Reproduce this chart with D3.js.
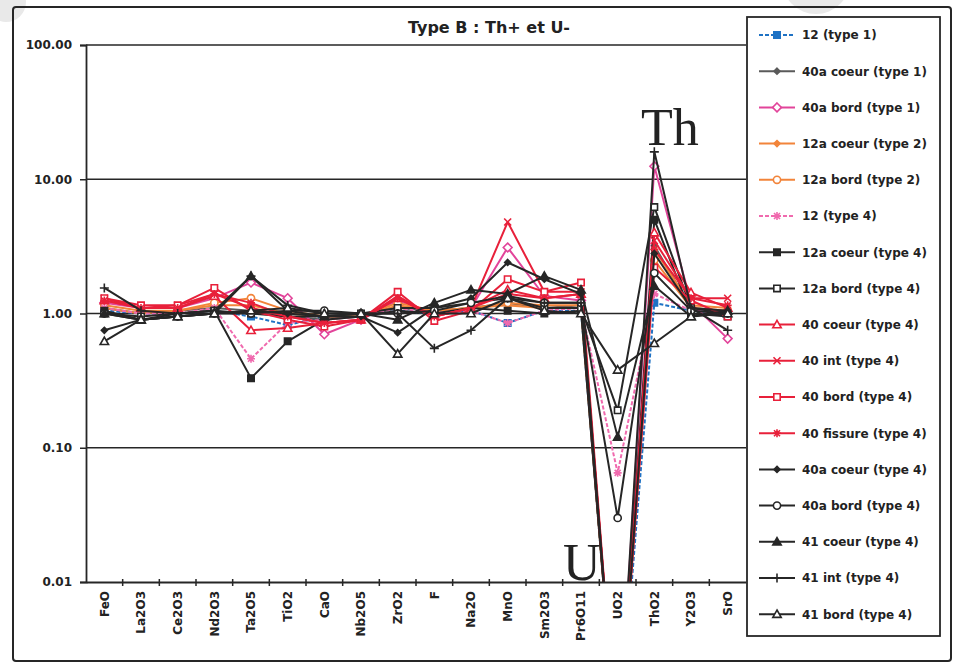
<!DOCTYPE html>
<html>
<head>
<meta charset="utf-8">
<script src="https://cdn.jsdelivr.net/npm/d3@7"></script>
<style>
  body { margin: 0; background: #fff; }
  text { font-family: "DejaVu Sans", Verdana, sans-serif; font-weight: bold; fill: #222; }
</style>
</head>
<body>
<div id="chart"></div>
<script>
// ---- data ----
const categories = ["FeO","La2O3","Ce2O3","Nd2O3","Ta2O5","TiO2","CaO","Nb2O5","ZrO2","F","Na2O","MnO","Sm2O3","Pr6O11","UO2","ThO2","Y2O3","SrO"];

const yTicks = [0.01, 0.1, 1, 10, 100];

const seriesNames = [
  "12 (type 1)", "40a coeur (type 1)", "40a bord (type 1)", "12a coeur (type 2)",
  "12a bord (type 2)", "12 (type 4)", "12a coeur (type 4)", "12a bord (type 4)",
  "40 coeur (type 4)", "40 int (type 4)", "40 bord (type 4)", "40 fissure (type 4)",
  "40a coeur (type 4)", "40a bord (type 4)", "41 coeur (type 4)", "41 int (type 4)",
  "41 bord (type 4)"
];

// values below 0.01 (UO2) fall off the bottom of the log axis
const v12_t1       = [1.05, 1.0, 1.0, 1.05, 0.95, 0.82, 0.95, 0.95, 1.05, 1.0, 1.05, 0.85, 1.05, 1.05, 0.0005, 1.2, 1.05, 1.0];
const v40aCoeur_t1 = [1.1, 1.0, 1.05, 1.1, 1.05, 0.95, 0.9, 0.95, 1.1, 1.05, 1.1, 1.2, 1.1, 1.15, 0.0005, 3.2, 1.1, 1.05];
const v40aBord_t1  = [1.2, 1.1, 1.1, 1.3, 1.7, 1.3, 0.7, 0.9, 1.25, 1.0, 1.1, 3.1, 1.35, 1.25, 0.0005, 12.5, 1.2, 0.65];
const v12aCoeur_t2 = [1.1, 1.0, 1.05, 1.15, 1.15, 1.0, 0.95, 0.95, 1.15, 1.05, 1.1, 1.15, 1.1, 1.1, 0.0005, 3.0, 1.15, 1.1];
const v12aBord_t2  = [1.15, 1.05, 1.05, 1.2, 1.3, 1.05, 0.95, 0.95, 1.2, 1.05, 1.1, 1.2, 1.15, 1.15, 0.0005, 2.5, 1.1, 1.05];
const v12_t4       = [1.1, 1.0, 1.0, 1.1, 0.46, 0.85, 0.9, 0.95, 1.1, 1.0, 1.05, 0.85, 1.05, 1.1, 0.065, 1.4, 1.05, 1.0];
const v12aCoeur_t4 = [1.05, 0.9, 1.0, 1.05, 0.33, 0.62, 0.9, 0.95, 1.05, 1.0, 1.1, 1.05, 1.0, 1.05, 0.0005, 5.0, 1.0, 0.95];
const v12aBord_t4  = [1.0, 0.95, 1.0, 1.05, 1.0, 0.95, 0.95, 1.0, 1.1, 1.1, 1.2, 1.3, 1.1, 1.1, 0.19, 6.2, 1.1, 1.0];
const v40Coeur_t4  = [1.25, 1.1, 1.1, 1.35, 0.75, 0.78, 0.85, 0.9, 1.3, 0.95, 1.1, 1.5, 1.3, 1.4, 0.0005, 4.0, 1.43, 1.1];
const v40Int_t4    = [1.3, 1.1, 1.15, 1.4, 1.1, 0.95, 0.85, 0.9, 1.35, 0.95, 1.1, 4.8, 1.45, 1.45, 0.0005, 3.5, 1.3, 1.3];
const v40Bord_t4   = [1.3, 1.15, 1.15, 1.55, 1.05, 0.9, 0.8, 0.9, 1.45, 0.88, 1.05, 1.8, 1.45, 1.7, 0.0005, 2.2, 1.25, 0.95];
const v40Fiss_t4   = [1.25, 1.1, 1.1, 1.4, 1.2, 0.95, 0.85, 0.9, 1.3, 0.95, 1.1, 1.4, 1.3, 1.4, 0.0005, 3.0, 1.3, 1.15];
const v40aCoeur_t4 = [0.75, 0.9, 0.95, 1.0, 1.05, 1.0, 0.95, 0.95, 0.72, 1.1, 1.3, 2.4, 1.8, 1.4, 0.0005, 2.8, 1.1, 1.05];
const v40aBord_t4  = [1.0, 0.9, 0.95, 1.0, 1.0, 1.05, 1.05, 1.0, 1.0, 1.05, 1.2, 1.35, 1.2, 1.2, 0.03, 2.0, 1.05, 1.0];
const v41Coeur_t4  = [1.0, 0.9, 0.95, 1.0, 1.9, 1.05, 0.95, 1.0, 0.9, 1.2, 1.5, 1.4, 1.9, 1.5, 0.12, 1.6, 0.95, 1.05];
const v41Int_t4    = [1.55, 1.05, 1.0, 1.05, 1.9, 1.15, 1.0, 1.0, 1.0, 0.55, 0.75, 1.3, 1.2, 1.2, 0.0005, 16, 1.1, 0.75];
const v41Bord_t4   = [0.62, 0.9, 0.95, 1.0, 1.05, 1.1, 1.0, 1.0, 0.5, 1.0, 1.0, 1.3, 1.05, 1.0, 0.38, 0.6, 0.95, 1.0];

const seriesValues = [
  v12_t1, v40aCoeur_t1, v40aBord_t1, v12aCoeur_t2, v12aBord_t2, v12_t4,
  v12aCoeur_t4, v12aBord_t4, v40Coeur_t4, v40Int_t4, v40Bord_t4, v40Fiss_t4,
  v40aCoeur_t4, v40aBord_t4, v41Coeur_t4, v41Int_t4, v41Bord_t4
];

// ---- styles ----
const RED = "#e8203a", BLK = "#262626";
const seriesStyles = [
  { color: "#1f72c4", marker: "square", filled: true, dash: "4,2" },
  { color: "#5a5a5a", marker: "smalldiamond", filled: true },
  { color: "#e2449a", marker: "diamond", filled: false },
  { color: "#f2843a", marker: "smalldiamond", filled: true },
  { color: "#f2843a", marker: "circle", filled: false },
  { color: "#f06aae", marker: "asterisk", filled: true, dash: "4,2" },
  { color: BLK, marker: "square", filled: true },
  { color: BLK, marker: "square", filled: false },
  { color: RED, marker: "triangle", filled: false },
  { color: RED, marker: "x", filled: false },
  { color: RED, marker: "square", filled: false },
  { color: RED, marker: "asterisk", filled: false },
  { color: BLK, marker: "smalldiamond", filled: true },
  { color: BLK, marker: "circle", filled: false },
  { color: BLK, marker: "triangle", filled: true },
  { color: BLK, marker: "plus", filled: false },
  { color: BLK, marker: "triangle", filled: false }
];

function markerPath(kind) {
  switch (kind) {
    case "square": return "M-3.2,-3.2H3.2V3.2H-3.2Z";
    case "diamond": return "M0,-4.4L4.4,0L0,4.4L-4.4,0Z";
    case "smalldiamond": return "M0,-3L3,0L0,3L-3,0Z";
    case "triangle": return "M0,-4.2L4.2,3.2L-4.2,3.2Z";
    case "circle": return "M3.6,0A3.6,3.6 0 1 1 -3.6,0A3.6,3.6 0 1 1 3.6,0Z";
    case "plus": return "M-4.5,0H4.5M0,-4.5V4.5";
    case "x": return "M-3.5,-3.5L3.5,3.5M-3.5,3.5L3.5,-3.5";
    case "asterisk": return "M-4,0H4M0,-4V4M-3,-3L3,3M-3,3L3,-3";
  }
}
const strokeOnly = ["plus", "x", "asterisk"];

// ---- layout ----
const W = 959, H = 664;
const plot = { left: 86, right: 746, top: 45, bottom: 582 };

const svg = d3.select("#chart")
  .append("svg")
  .attr("width", W)
  .attr("height", H);

// hole-punch shadows from the scan
svg.append("circle").attr("cx", 6).attr("cy", 2).attr("r", 20).attr("fill", "#e9e9e9");
svg.append("circle").attr("cx", 816).attr("cy", -20).attr("r", 34).attr("fill", "#e9e9e9");

// outer frame
svg.append("rect")
  .attr("x", 13).attr("y", 7)
  .attr("width", 938).attr("height", 654)
  .attr("rx", 3)
  .attr("fill", "none")
  .attr("stroke", BLK)
  .attr("stroke-width", 2);

const xScale = d3.scaleBand()
  .domain(categories)
  .range([plot.left, plot.right]);

const yScale = d3.scaleLog()
  .domain([0.01, 100])
  .range([plot.bottom, plot.top]);

const cx = (c) => xScale(c) + xScale.bandwidth() / 2;

// horizontal gridlines
svg.append("g")
  .attr("class", "grid")
  .selectAll("line")
  .data(yTicks.slice(1))
  .join("line")
  .attr("x1", plot.left)
  .attr("x2", plot.right)
  .attr("y1", d => yScale(d))
  .attr("y2", d => yScale(d))
  .attr("stroke", BLK)
  .attr("stroke-width", 1.5);

// series
svg.append("clipPath")
  .attr("id", "plotClip")
  .append("rect")
  .attr("x", plot.left)
  .attr("y", plot.top - 6)
  .attr("width", plot.right - plot.left)
  .attr("height", plot.bottom - plot.top + 6);

const seriesData = seriesNames.map((name, i) => ({
  name,
  style: seriesStyles[i],
  points: categories.map((c, j) => ({ cat: c, v: seriesValues[i][j] }))
}));

const line = d3.line()
  .x(d => cx(d.cat))
  .y(d => yScale(d.v));

const seriesG = svg.append("g")
  .attr("clip-path", "url(#plotClip)");

seriesData.forEach(s => {
  const g = seriesG.append("g");
  g.append("path")
    .datum(s.points)
    .attr("fill", "none")
    .attr("stroke", s.style.color)
    .attr("stroke-width", 2)
    .attr("stroke-dasharray", s.style.dash || null)
    .attr("stroke-linejoin", "round")
    .attr("d", line);

  g.selectAll("path.mk")
    .data(s.points.filter(d => d.v >= 0.01))
    .join("path")
    .attr("class", "mk")
    .attr("transform", d => `translate(${cx(d.cat)},${yScale(d.v)})`)
    .attr("d", markerPath(s.style.marker))
    .attr("fill", strokeOnly.includes(s.style.marker) ? "none" : (s.style.filled ? s.style.color : "#fff"))
    .attr("stroke", s.style.color)
    .attr("stroke-width", 1.6);
});

// y axis
const yAxis = svg.append("g")
  .attr("transform", `translate(${plot.left},0)`)
  .call(d3.axisLeft(yScale).tickValues(yTicks).tickFormat(d3.format(".2f")).tickSize(6).tickPadding(8));
yAxis.select(".domain").attr("stroke", BLK).attr("stroke-width", 1.8);
yAxis.selectAll(".tick line").attr("stroke", BLK).attr("stroke-width", 1.5);
yAxis.selectAll(".tick text")
  .style("font-size", "12px")
  .attr("fill", BLK);

// x axis
const xAxis = svg.append("g")
  .attr("transform", `translate(0,${plot.bottom})`)
  .call(d3.axisBottom(xScale).tickSize(0).tickPadding(0));
xAxis.select(".domain").attr("stroke", BLK).attr("stroke-width", 1.8);
xAxis.selectAll(".tick text")
  .style("font-size", "12px")
  .attr("fill", BLK)
  .attr("text-anchor", "end")
  .attr("transform", "rotate(-90)")
  .attr("x", -9)
  .attr("y", 0)
  .attr("dy", "0.36em");

// category separators on the x axis
xAxis.selectAll("line.sep")
  .data(categories.slice(1))
  .join("line")
  .attr("class", "sep")
  .attr("x1", d => xScale(d))
  .attr("x2", d => xScale(d))
  .attr("y1", -3)
  .attr("y2", 4)
  .attr("stroke", BLK)
  .attr("stroke-width", 1.5);

// title
svg.append("text")
  .attr("x", 489)
  .attr("y", 33)
  .attr("text-anchor", "middle")
  .style("font-size", "16px")
  .text("Type B : Th+ et U-");

// big labels on the peaks
svg.append("text")
  .attr("x", 641)
  .attr("y", 145)
  .style("font-family", "'Liberation Serif', 'DejaVu Serif', serif")
  .style("font-weight", "normal")
  .style("font-size", "52px")
  .attr("fill", "#333")
  .text("Th");

svg.append("text")
  .attr("x", 563)
  .attr("y", 580)
  .style("font-family", "'Liberation Serif', 'DejaVu Serif', serif")
  .style("font-weight", "normal")
  .style("font-size", "52px")
  .attr("fill", "#333")
  .text("U");

// legend
const legend = svg.append("g").attr("class", "legend");
legend.append("rect")
  .attr("x", 747).attr("y", 17)
  .attr("width", 193).attr("height", 619)
  .attr("fill", "#fff")
  .attr("stroke", BLK)
  .attr("stroke-width", 1.8);

const item = legend.selectAll("g.item")
  .data(seriesData)
  .join("g")
  .attr("class", "item")
  .attr("transform", (d, i) => `translate(0,${35 + i * 36.2})`);

item.append("line")
  .attr("x1", 759).attr("x2", 795)
  .attr("stroke", d => d.style.color)
  .attr("stroke-width", 2)
  .attr("stroke-dasharray", d => d.style.dash || null);

item.append("path")
  .attr("transform", "translate(777,0)")
  .attr("d", d => markerPath(d.style.marker))
  .attr("fill", d => strokeOnly.includes(d.style.marker) ? "none" : (d.style.filled ? d.style.color : "#fff"))
  .attr("stroke", d => d.style.color)
  .attr("stroke-width", 1.6);

item.append("text")
  .attr("x", 802)
  .attr("dy", "0.36em")
  .style("font-size", "12px")
  .text(d => d.name);
</script>
</body>
</html>
